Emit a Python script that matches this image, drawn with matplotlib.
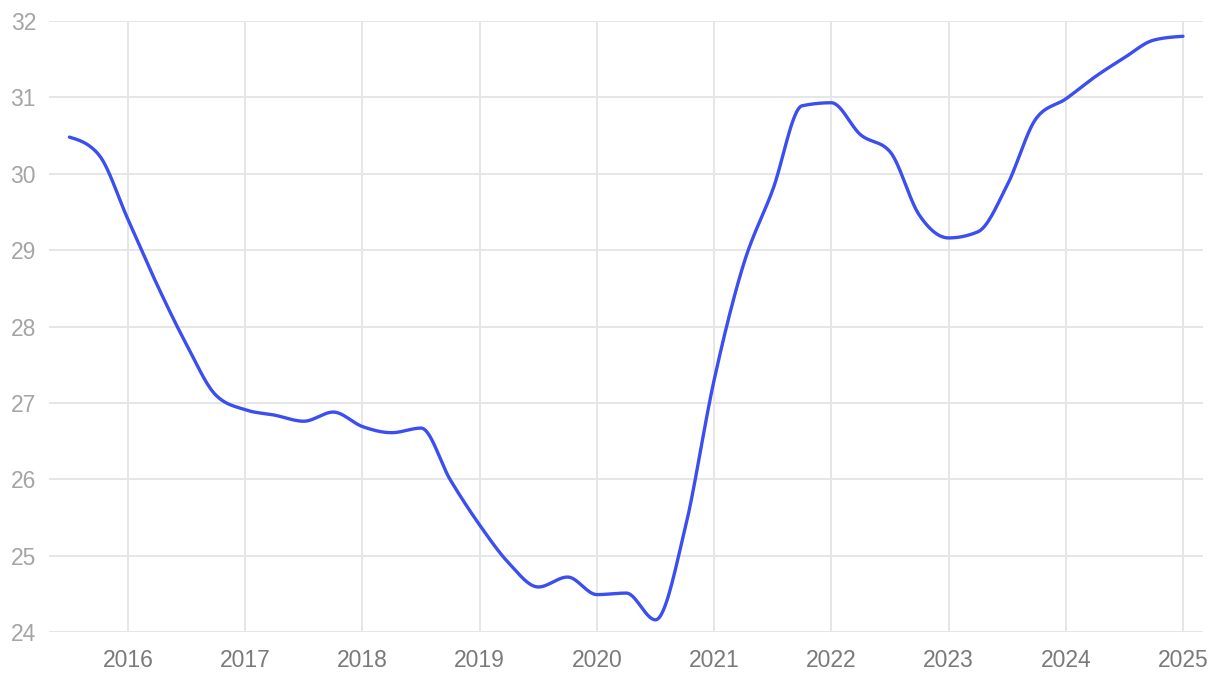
import matplotlib.pyplot as plt
import numpy as np

plt.rcParams['font.family'] = ['Liberation Sans', 'DejaVu Sans']

# quarterly values
years = [2015.5, 2015.75, 2016.0, 2016.25, 2016.5, 2016.75,
         2017.0, 2017.25, 2017.5, 2017.75, 2018.0, 2018.25,
         2018.5, 2018.75, 2019.0, 2019.25, 2019.5, 2019.75,
         2020.0, 2020.25, 2020.5, 2020.75, 2021.0, 2021.25,
         2021.5, 2021.75, 2022.0, 2022.25, 2022.5, 2022.75,
         2023.0, 2023.25, 2023.5, 2023.75, 2024.0, 2024.25,
         2024.5, 2024.75, 2025.0]
values = [30.48, 30.25, 29.40, 28.54, 27.76, 27.10,
          26.91, 26.84, 26.76, 26.88, 26.69, 26.61,
          26.67, 25.99, 25.40, 24.90, 24.59, 24.72,
          24.49, 24.51, 24.16, 25.34, 27.30, 28.81,
          29.79, 30.89, 30.93, 30.51, 30.29, 29.46,
          29.16, 29.24, 29.85, 30.73, 30.98, 31.27,
          31.52, 31.75, 31.80]
year_ticks = [2016, 2017, 2018, 2019, 2020, 2021, 2022, 2023, 2024, 2025]
value_ticks = [24, 25, 26, 27, 28, 29, 30, 31, 32]


def monotone_path(x, y, n=30):                 # сглаженная линия как monotoneX
    x = np.asarray(x, float)
    y = np.asarray(y, float)
    h = np.diff(x)
    s = np.diff(y) / h
    t = np.zeros_like(y)
    for i in range(1, len(x) - 1):
        p = (s[i - 1] * h[i] + s[i] * h[i - 1]) / (h[i - 1] + h[i])
        t[i] = (np.sign(s[i - 1]) + np.sign(s[i])) * min(abs(s[i - 1]), abs(s[i]), 0.5 * abs(p))
    t[0] = (3 * s[0] - t[1]) / 2
    t[-1] = (3 * s[-1] - t[-2]) / 2
    xs, ys = [], []
    for i in range(len(x) - 1):
        u = np.linspace(0, 1, n, endpoint=False)
        h00 = 2 * u**3 - 3 * u**2 + 1
        h10 = u**3 - 2 * u**2 + u
        h01 = -2 * u**3 + 3 * u**2
        h11 = u**3 - u**2
        xs.append(x[i] + u * h[i])
        ys.append(h00 * y[i] + h10 * h[i] * t[i] + h01 * y[i + 1] + h11 * h[i] * t[i + 1])
    xs.append([x[-1]])
    ys.append([y[-1]])
    return np.concatenate(xs), np.concatenate(ys)


fig = plt.figure(figsize=(12.2, 6.78), dpi=100)
ax = fig.add_axes([0.0402, 0.0678, 0.9458, 0.9012])

sx, sy = monotone_path(years, values)
ax.plot(sx, sy, color='#3b4ef0', lw=2.4, solid_capstyle='round', zorder=3)

ax.set_xlim(2015.326, 2025.17)
ax.set_ylim(24, 32)
ax.set_xticks(year_ticks)
ax.set_xticklabels([str(t) for t in year_ticks])
ax.set_yticks(value_ticks)
ax.grid(True, color='#e6e6e6', linewidth=1.4)
ax.set_axisbelow(True)
for sp in ax.spines.values():
    sp.set_visible(False)
ax.tick_params(axis='both', length=0)
ax.tick_params(axis='x', labelsize=16.5, labelcolor='#7a7a7a', pad=12)
ax.tick_params(axis='y', labelsize=16.5, labelcolor='#a5a5a5', pad=9.4)

plt.savefig("out.png", dpi=100)
